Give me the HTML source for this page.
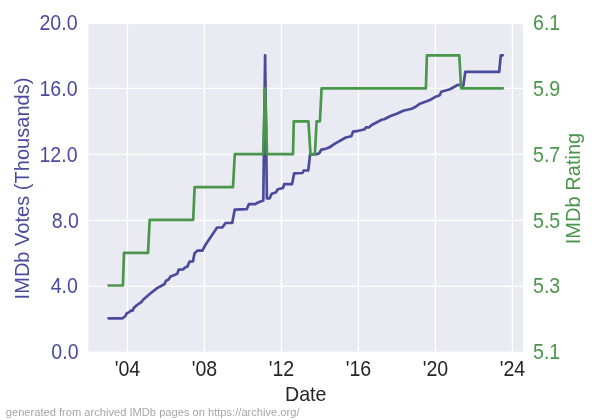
<!DOCTYPE html>
<html lang="en"><head><meta charset="utf-8"><title>IMDb votes and rating over time</title>
<style>
html,body{margin:0;padding:0;background:#ffffff;}
body{width:600px;height:420px;position:relative;overflow:hidden;font-family:"Liberation Sans",Arial,Helvetica,sans-serif;}
svg text{white-space:pre;}
</style></head><body>
<svg width="600" height="420" viewBox="0 0 600 420" style="position:absolute;left:0;top:0">
<rect x="88.4" y="24.2" width="434.6" height="327.6" fill="#eaeaf2"/>
<clipPath id="c"><rect x="88.4" y="24.2" width="434.6" height="327.6"/></clipPath>
<g clip-path="url(#c)" stroke="#ffffff" stroke-width="1.3" fill="none">
<line x1="127.4" y1="24.2" x2="127.4" y2="351.8"/>
<line x1="204.4" y1="24.2" x2="204.4" y2="351.8"/>
<line x1="281.4" y1="24.2" x2="281.4" y2="351.8"/>
<line x1="358.4" y1="24.2" x2="358.4" y2="351.8"/>
<line x1="435.4" y1="24.2" x2="435.4" y2="351.8"/>
<line x1="512.4" y1="24.2" x2="512.4" y2="351.8"/>
<line x1="88.4" y1="352.3" x2="523.0" y2="352.3"/>
<line x1="88.4" y1="286.3" x2="523.0" y2="286.3"/>
<line x1="88.4" y1="220.3" x2="523.0" y2="220.3"/>
<line x1="88.4" y1="154.3" x2="523.0" y2="154.3"/>
<line x1="88.4" y1="88.3" x2="523.0" y2="88.3"/>
<line x1="88.4" y1="22.3" x2="523.0" y2="22.3"/>
</g>
<g clip-path="url(#c)" fill="none" stroke-width="2.7" stroke-linejoin="round" stroke-linecap="round">
<polyline stroke="#4b4b9d" points="108.6,318.3 122.6,318.3 125.5,316.0 126.7,313.4 129.3,312.1 130.7,310.7 132.6,310.7 133.6,308.3 136.4,305.5 141.2,302.1 143.1,299.8 150.0,293.8 157.1,288.1 164.3,284.3 166.1,280.7 168.5,279.5 170.5,276.5 174.4,275.0 177.4,273.6 178.6,269.6 183.3,269.3 185.1,267.4 187.5,266.4 189.5,261.7 192.9,261.5 194.6,253.2 197.6,250.6 202.4,250.6 205.7,244.4 217.1,227.5 222.3,227.5 225.5,223.0 232.2,223.0 234.7,209.7 246.7,209.2 248.8,204.2 255.3,204.2 258.0,202.5 263.3,200.5 265.1,55.3 266.9,198.5 269.7,198.3 271.7,193.7 275.8,192.5 277.8,189.2 283.0,188.0 284.2,184.2 292.0,184.2 294.2,173.3 302.5,173.0 303.7,170.5 308.3,170.3 310.0,154.7 316.7,154.2 319.2,153.3 321.3,149.7 324.2,149.2 329.2,147.5 335.0,143.7 345.8,137.5 351.3,136.2 353.0,131.7 358.3,130.8 364.2,129.5 366.3,127.3 369.2,127.3 371.7,125.0 381.7,119.7 384.2,119.2 390.0,116.2 396.7,113.8 403.3,110.8 411.7,108.7 415.8,106.7 420.0,103.7 430.0,100.0 435.8,96.7 439.7,95.3 441.3,91.7 450.0,89.2 457.5,85.0 460.8,84.7 463.3,85.8 465.3,71.8 499.2,71.8 500.8,55.3 502.8,55.3"/>
<polyline stroke="#4a964b" points="108.6,285.5 122.9,285.5 124.0,252.9 148.0,252.9 149.7,219.8 193.2,219.8 194.6,187.1 233.0,187.1 234.8,154.2 263.1,154.2 265.1,88.3 267.0,154.2 293.0,154.2 293.8,121.3 308.4,121.3 310.5,154.2 314.9,154.2 316.6,121.3 319.9,121.3 321.6,88.3 425.9,88.3 426.9,55.3 459.3,55.3 461.1,88.3 502.8,88.3"/>
</g>
<text font-family="Liberation Sans, Arial, Helvetica, sans-serif" font-size="21.6" fill="#4b4b9d" text-anchor="end" transform="translate(78.60,359.10) scale(0.907,1)">0.0</text>
<text font-family="Liberation Sans, Arial, Helvetica, sans-serif" font-size="21.6" fill="#4b4b9d" text-anchor="end" transform="translate(77.90,293.20) scale(0.907,1)">4.0</text>
<text font-family="Liberation Sans, Arial, Helvetica, sans-serif" font-size="21.6" fill="#4b4b9d" text-anchor="end" transform="translate(78.90,228.10) scale(0.907,1)">8.0</text>
<text font-family="Liberation Sans, Arial, Helvetica, sans-serif" font-size="21.6" fill="#4b4b9d" text-anchor="end" transform="translate(77.60,162.10) scale(0.907,1)">12.0</text>
<text font-family="Liberation Sans, Arial, Helvetica, sans-serif" font-size="21.6" fill="#4b4b9d" text-anchor="end" transform="translate(77.60,96.10) scale(0.907,1)">16.0</text>
<text font-family="Liberation Sans, Arial, Helvetica, sans-serif" font-size="21.6" fill="#4b4b9d" text-anchor="end" transform="translate(77.60,30.10) scale(0.907,1)">20.0</text>
<text font-family="Liberation Sans, Arial, Helvetica, sans-serif" font-size="21.6" fill="#4a964b" text-anchor="start" transform="translate(533.00,359.10) scale(0.907,1)">5.1</text>
<text font-family="Liberation Sans, Arial, Helvetica, sans-serif" font-size="21.6" fill="#4a964b" text-anchor="start" transform="translate(533.00,293.30) scale(0.907,1)">5.3</text>
<text font-family="Liberation Sans, Arial, Helvetica, sans-serif" font-size="21.6" fill="#4a964b" text-anchor="start" transform="translate(533.00,227.60) scale(0.907,1)">5.5</text>
<text font-family="Liberation Sans, Arial, Helvetica, sans-serif" font-size="21.6" fill="#4a964b" text-anchor="start" transform="translate(533.00,162.10) scale(0.907,1)">5.7</text>
<text font-family="Liberation Sans, Arial, Helvetica, sans-serif" font-size="21.6" fill="#4a964b" text-anchor="start" transform="translate(533.00,96.10) scale(0.907,1)">5.9</text>
<text font-family="Liberation Sans, Arial, Helvetica, sans-serif" font-size="21.6" fill="#4a964b" text-anchor="start" transform="translate(533.00,30.10) scale(0.907,1)">6.1</text>
<text font-family="Liberation Sans, Arial, Helvetica, sans-serif" font-size="21.6" fill="#262626" text-anchor="middle" transform="translate(127.40,375.80) scale(0.907,1)">'04</text>
<text font-family="Liberation Sans, Arial, Helvetica, sans-serif" font-size="21.6" fill="#262626" text-anchor="middle" transform="translate(204.40,375.80) scale(0.907,1)">'08</text>
<text font-family="Liberation Sans, Arial, Helvetica, sans-serif" font-size="21.6" fill="#262626" text-anchor="middle" transform="translate(281.40,375.80) scale(0.907,1)">'12</text>
<text font-family="Liberation Sans, Arial, Helvetica, sans-serif" font-size="21.6" fill="#262626" text-anchor="middle" transform="translate(358.40,375.80) scale(0.907,1)">'16</text>
<text font-family="Liberation Sans, Arial, Helvetica, sans-serif" font-size="21.6" fill="#262626" text-anchor="middle" transform="translate(435.40,375.80) scale(0.907,1)">'20</text>
<text font-family="Liberation Sans, Arial, Helvetica, sans-serif" font-size="21.6" fill="#262626" text-anchor="middle" transform="translate(512.40,375.80) scale(0.907,1)">'24</text>
<text font-family="Liberation Sans, Arial, Helvetica, sans-serif" font-size="20.85" fill="#262626" text-anchor="middle" transform="translate(305.70,400.70) scale(0.94,1)">Date</text>
<text font-family="Liberation Sans, Arial, Helvetica, sans-serif" font-size="20.85" fill="#4b4b9d" text-anchor="middle" transform="translate(29.00,188.50) scale(0.975,1) rotate(-90) scale(0.962,1)">IMDb Votes (Thousands)</text>
<text font-family="Liberation Sans, Arial, Helvetica, sans-serif" font-size="20.85" fill="#4a964b" text-anchor="middle" transform="translate(579.90,188.50) scale(0.975,1) rotate(-90) scale(0.962,1)">IMDb Rating</text>
<text font-family="Liberation Sans, Arial, Helvetica, sans-serif" font-size="11.85" fill="#a6a6a6" text-anchor="start" transform="translate(5.80,415.80) scale(0.94,1)">generated from archived IMDb pages on https://archive.org/</text>
</svg>
</body></html>
